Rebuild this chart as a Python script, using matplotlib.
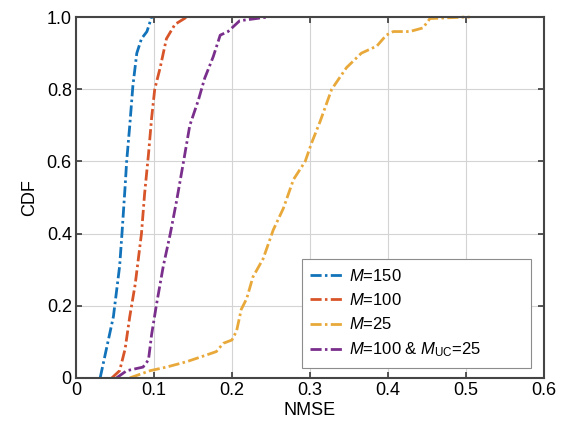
import matplotlib.pyplot as plt

plt.rcParams.update({
    "font.family": "Liberation Sans",
    "font.size": 13,
    "mathtext.fontset": "custom",
    "mathtext.rm": "Liberation Sans",
    "mathtext.it": "Liberation Sans:italic",
})

# NMSE / CDF samples
m150_x = [0.031, 0.048, 0.056, 0.059, 0.063, 0.065, 0.069, 0.073, 0.078, 0.084, 0.091, 0.097]
m150_y = [0.0, 0.17, 0.31, 0.40, 0.53, 0.60, 0.70, 0.81, 0.90, 0.94, 0.96, 1.0]

m100_x = [0.046, 0.056, 0.063, 0.069, 0.076, 0.080, 0.084, 0.088, 0.093, 0.097, 0.101,
          0.108, 0.116, 0.127, 0.142]
m100_y = [0.0, 0.02, 0.08, 0.17, 0.26, 0.33, 0.40, 0.51, 0.62, 0.72, 0.80,
          0.86, 0.94, 0.98, 1.0]

m25_x = [0.069, 0.095, 0.116, 0.142, 0.168, 0.180, 0.189, 0.200, 0.206, 0.212, 0.219,
         0.227, 0.240, 0.253, 0.266, 0.279, 0.294, 0.302, 0.313, 0.328, 0.347, 0.366,
         0.386, 0.398, 0.407, 0.428, 0.445, 0.454, 0.497, 0.505]
m25_y = [0.0, 0.02, 0.03, 0.045, 0.064, 0.073, 0.096, 0.105, 0.13, 0.19, 0.22,
         0.28, 0.33, 0.41, 0.47, 0.55, 0.60, 0.65, 0.71, 0.80, 0.86, 0.90,
         0.92, 0.95, 0.96, 0.96, 0.97, 0.996, 1.0, 1.0]

muc_x = [0.052, 0.065, 0.086, 0.093, 0.097, 0.103, 0.112, 0.121, 0.129, 0.138, 0.146,
         0.157, 0.165, 0.176, 0.185, 0.195, 0.210, 0.245]
muc_y = [0.0, 0.02, 0.03, 0.05, 0.12, 0.20, 0.31, 0.40, 0.49, 0.60, 0.70,
         0.77, 0.83, 0.89, 0.95, 0.96, 0.99, 1.0]

series = [
    (m150_x, m150_y, "#1273BA", r"$M$=150"),
    (m100_x, m100_y, "#D8552A", r"$M$=100"),
    (m25_x, m25_y, "#E8A93A", r"$M$=25"),
    (muc_x, muc_y, "#7A2F8C", r"$M$=100 & $M_{\mathrm{UC}}$=25"),
]

fig = plt.figure(figsize=(5.67, 4.28), dpi=100)
ax = fig.add_axes([0.134, 0.117, 0.825, 0.843])

for xs, ys, color, label in series:
    ax.plot(xs, ys, linestyle=(0, (4.0, 1.2, 0.9, 1.2)), color=color, linewidth=2.0,
            label=label, clip_on=False)

ax.set_xlim(0, 0.6)
ax.set_ylim(0, 1)
ax.set_xticks([0, 0.1, 0.2, 0.3, 0.4, 0.5, 0.6])
ax.set_xticklabels(["0", "0.1", "0.2", "0.3", "0.4", "0.5", "0.6"])
ax.set_yticks([0, 0.2, 0.4, 0.6, 0.8, 1.0])
ax.set_yticklabels(["0", "0.2", "0.4", "0.6", "0.8", "1.0"])
ax.set_xlabel("NMSE", fontsize=13, labelpad=2)
ax.set_ylabel("CDF", fontsize=13, labelpad=6)
ax.grid(True, color="#d4d4d4", linewidth=0.8)
ax.set_axisbelow(True)
ax.tick_params(direction="in", top=True, right=True, length=4, width=1.2,
               labelsize=13, pad=3, color="#3a3a3a")
for spine in ax.spines.values():
    spine.set_linewidth(1.5)
    spine.set_color("#454545")

leg = ax.legend(loc="lower left", bbox_to_anchor=(0.483, 0.028, 0.489, 0.3), mode="expand",
                borderaxespad=0.0, fontsize=12, handlelength=1.9, handletextpad=0.4,
                labelspacing=0.5, borderpad=0.5, fancybox=False, framealpha=1.0,
                edgecolor="#8c8c8c")
leg.get_frame().set_linewidth(0.8)

fig.savefig("out.png", dpi=100)
